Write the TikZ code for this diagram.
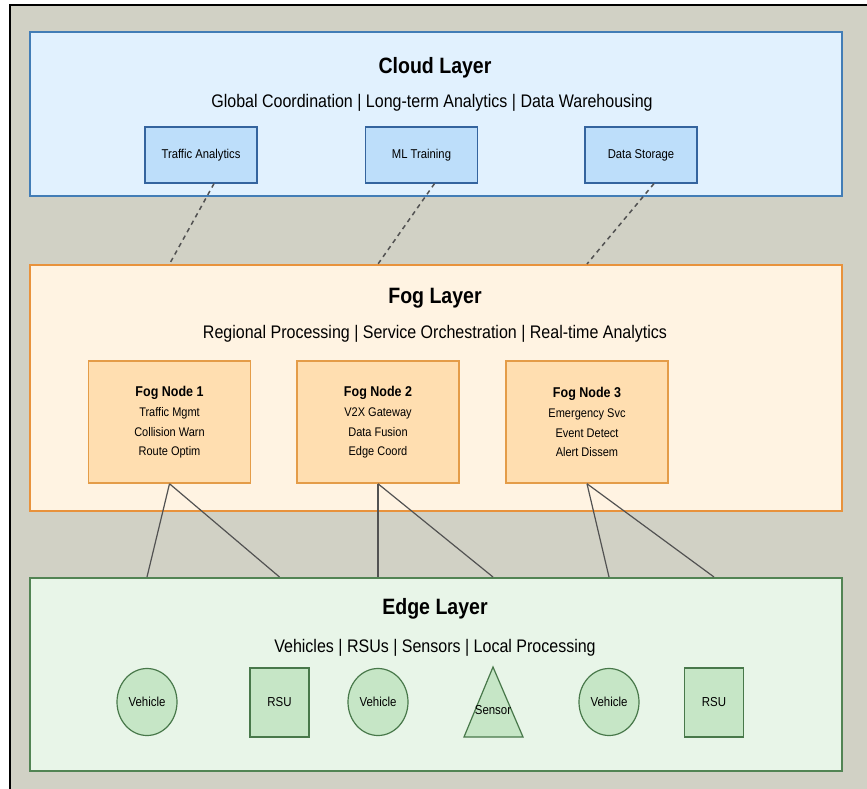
\documentclass[tikz,border=0pt]{standalone}
\usepackage{fontspec}
\setmainfont{Liberation Sans}[FakeStretch=0.88]
\usetikzlibrary{shapes.geometric, calc}

\definecolor{pagegray}{RGB}{209,209,197}
\definecolor{cloudfill}{RGB}{225,241,254}
\definecolor{cloudline}{RGB}{66,125,182}
\definecolor{cloudsubfill}{RGB}{189,222,250}
\definecolor{cloudsubline}{RGB}{52,100,158}
\definecolor{fogfill}{RGB}{255,243,226}
\definecolor{fogline}{RGB}{232,146,60}
\definecolor{fognodefill}{RGB}{255,222,176}
\definecolor{fognodeline}{RGB}{228,156,72}
\definecolor{edgefill}{RGB}{232,245,232}
\definecolor{edgeline}{RGB}{82,132,84}
\definecolor{devfill}{RGB}{198,230,198}
\definecolor{devline}{RGB}{72,120,74}
\definecolor{linkgray}{RGB}{82,82,82}

\begin{document}
\begin{tikzpicture}[
    x=1pt, y=-1pt,
    layer/.style = {draw, rectangle, line width=2pt, minimum width=812pt},
    title/.style = {font=\fontsize{22.2}{25}\selectfont\bfseries},
    subtitle/.style = {font=\fontsize{18.2}{20}\selectfont},
    cloudbox/.style = {draw=cloudsubline, fill=cloudsubfill, line width=1.2pt, minimum width=112pt, minimum height=56pt, font=\fontsize{12.8}{15}\selectfont},
    fognode/.style = {draw=fognodeline, fill=fognodefill, line width=1.5pt, minimum width=162pt, minimum height=122pt, align=center, font=\fontsize{12.5}{19.5}\selectfont},
    vehicle/.style = {draw=devline, fill=devfill, ellipse, line width=1.2pt, inner sep=0pt, minimum width=60pt, minimum height=67pt, font=\fontsize{13}{15}\selectfont},
    rsu/.style = {draw=devline, fill=devfill, rectangle, line width=1.2pt, minimum width=59pt, minimum height=69pt, font=\fontsize{13}{15}\selectfont},
    uplink/.style = {draw=linkgray, line width=1.5pt, dash pattern=on 4.5pt off 4pt},
    downlink/.style = {draw=linkgray, line width=1.2pt}
]

% =========================================================
% CANVAS
% =========================================================
\useasboundingbox (0,0) rectangle (867,789);
\clip (0,0) rectangle (867,789);
\fill[white] (0,0) rectangle (867,789);
\draw[line width=1.5pt, fill=pagegray] (10,5) rectangle (880,800);

% =========================================================
% CLOUD LAYER
% =========================================================
\node[layer, draw=cloudline, fill=cloudfill, minimum height=164pt] (cloud) at (436,114) {};
\node[title] (cloud_title) at (435,68) {Cloud Layer};
\node[subtitle] (cloud_sub) at (432,103) {Global Coordination | Long-term Analytics | Data Warehousing};

\node[cloudbox] (analytics) at (201,155) {Traffic Analytics};
\node[cloudbox] (training) at (421.5,155) {ML Training};
\node[cloudbox] (storage) at (641,155) {Data Storage};

% =========================================================
% FOG LAYER
% =========================================================
\node[layer, draw=fogline, fill=fogfill, minimum height=246pt] (fog) at (436,388) {};
\node[title] (fog_title) at (435,298) {Fog Layer};
\node[subtitle] (fog_sub) at (435,334) {Regional Processing | Service Orchestration | Real-time Analytics};

\node[fognode] (fog1) at (169.5,422) {{\fontsize{14.2}{16}\selectfont\bfseries Fog Node 1}\\[1pt]Traffic Mgmt\\Collision Warn\\Route Optim};
\node[fognode] (fog2) at (378,422) {{\fontsize{14.2}{16}\selectfont\bfseries Fog Node 2}\\[1pt]V2X Gateway\\Data Fusion\\Edge Coord};
\node[fognode] (fog3) at (587,422) {{\fontsize{14.2}{16}\selectfont\bfseries Fog Node 3}\\[1pt]Emergency Svc\\Event Detect\\Alert Dissem};

% =========================================================
% EDGE LAYER
% =========================================================
\node[layer, draw=edgeline, fill=edgefill, minimum height=193pt] (edge) at (436,674.5) {};
\node[title] (edge_title) at (435,609) {Edge Layer};
\node[subtitle] (edge_sub) at (435,648) {Vehicles | RSUs | Sensors | Local Processing};

\node[vehicle] (veh1) at (147,702) {Vehicle};
\node[rsu] (rsu1) at (279.5,702.5) {RSU};
\node[vehicle] (veh2) at (378,702) {Vehicle};
% Sensor (triangle)
\coordinate (sensor_top) at (493,667);
\draw[draw=devline, fill=devfill, line width=1.2pt] (sensor_top) -- (523,737) -- (464,737) -- cycle;
\node[font=\fontsize{13}{15}\selectfont] (sensor) at (493,710) {Sensor};
\node[vehicle] (veh3) at (609,702) {Vehicle};
\node[rsu] (rsu2) at (714,702.5) {RSU};

% =========================================================
% WIRING: CLOUD TO FOG (dashed)
% =========================================================
\draw[uplink] ([xshift=13pt]analytics.south) -- (fog1 |- fog.north);
\draw[uplink] ([xshift=13pt]training.south) -- (fog2 |- fog.north);
\draw[uplink] ([xshift=13pt]storage.south) -- (fog3 |- fog.north);

% =========================================================
% WIRING: FOG TO EDGE
% =========================================================
\draw[downlink] (fog1.south) -- (veh1 |- edge.north);
\draw[downlink] (fog1.south) -- (rsu1 |- edge.north);
\draw[downlink] (fog2.south) -- (veh2 |- edge.north);
\draw[downlink] (fog2.south) -- (sensor_top |- edge.north);
\draw[downlink] (fog3.south) -- (veh3 |- edge.north);
\draw[downlink] (fog3.south) -- (rsu2 |- edge.north);

\end{tikzpicture}
\end{document}
